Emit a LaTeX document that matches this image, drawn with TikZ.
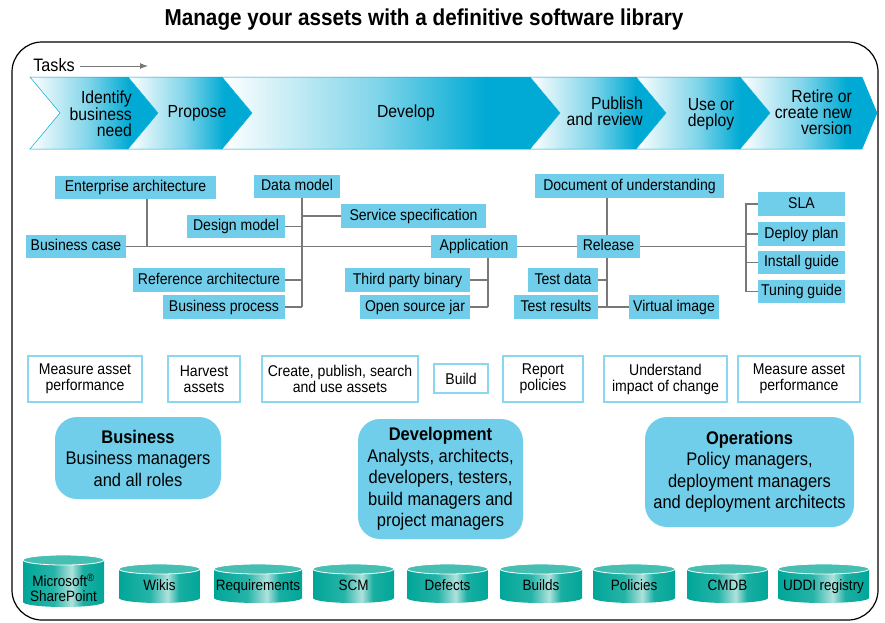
\documentclass[tikz,border=0pt]{standalone}
\usepackage{fontspec}
\setmainfont{Liberation Sans}[FakeStretch=0.9]
\usetikzlibrary{arrows.meta}

\definecolor{chevcyan}{RGB}{0,170,212}
\definecolor{lblblue}{RGB}{112,206,234}
\definecolor{boxedge}{RGB}{140,215,240}
\definecolor{linegray}{RGB}{120,120,120}
\definecolor{cylteal}{RGB}{0,166,152}
\definecolor{cylhi}{RGB}{175,226,220}
\definecolor{cyltop}{RGB}{70,190,178}

\pgfdeclarehorizontalshading{chevshade}{100bp}{color(0bp)=(white); color(25bp)=(white); color(48bp)=(chevcyan!50); color(64bp)=(chevcyan); color(100bp)=(chevcyan)}
\pgfdeclarehorizontalshading{cylshade}{100bp}{color(0bp)=(cylteal); color(25bp)=(cylteal); color(44bp)=(cylteal!85!white); color(55bp)=(cylhi); color(62bp)=(cylteal!90!white); color(75bp)=(cylteal); color(100bp)=(cylteal)}

\begin{document}
\begin{tikzpicture}
  [x=1pt,y=1pt,yscale=-1,
   link/.style={draw=linegray,line width=1.4pt},
   lbl/.style={fill=lblblue,minimum height=23.5pt,inner xsep=1pt,inner ysep=0pt,text height=11.5pt,text depth=3.5pt,font=\fontsize{15.6}{16}\selectfont},
   taskbox/.style={draw=boxedge,line width=1.2pt,fill=white,align=center,minimum height=46pt,inner xsep=1pt,inner ysep=0pt,font=\fontsize{15.6}{16}\selectfont},
   rolebox/.style={fill=lblblue,rounded corners=22pt,align=center,inner sep=0pt,font=\fontsize{18.3}{21.5}\selectfont},
   chevtext/.style={align=center,inner sep=0pt,font=\fontsize{17.5}{16}\selectfont},
   cyltext/.style={align=center,inner sep=0pt,font=\fontsize{15}{14.5}\selectfont}]

  \useasboundingbox (0,0) rectangle (885,622);

  \node[font=\fontsize{23}{26}\selectfont\bfseries] (title) at (424,20) {Manage your assets with a definitive software library};
  \draw[line width=1.2pt,rounded corners=30pt] (12,42) rectangle (878,620);

  \node[inner sep=1pt,font=\fontsize{18}{20}\selectfont] (tasks) at (54,65) {Tasks};
  \coordinate (tasksstart) at (80,66);
  \coordinate (tasksend) at (148,66);
  \draw[link,line width=1pt,-{Latex[length=8pt,width=6pt]}] (tasksstart) -- (tasksend);

  \foreach \xl/\xr/\tip in {30/128/30,128/222/30,222/530/30,530/636/30,636/740/30,740/862/15}
    \shade[shading=chevshade,draw=chevcyan,line width=.5pt] (\xl,77) -- (\xr,77) -- ++(\tip,36) -- (\xr,149) -- (\xl,149) -- ++(30,-36) -- cycle;

  \node[chevtext,align=right,anchor=east] (idn) at (132,114) {Identify\\business\\need};
  \node[chevtext] (prop) at (197,113) {Propose};
  \node[chevtext] (devt) at (406,113) {Develop};
  \node[chevtext,align=right,anchor=east] (pub) at (643,111) {Publish\\and review};
  \node[chevtext] (use) at (711,114) {Use or\\deploy};
  \node[chevtext,align=right,anchor=east] (ret) at (852,112) {Retire or\\create new\\version};

  \node[lbl,minimum width=161pt] (ea) at (135.5,187.5) {Enterprise architecture};
  \node[lbl,minimum width=86pt] (dm) at (297,186.5) {Data model};
  \node[lbl,minimum width=145pt] (ss) at (413.5,216) {Service specification};
  \node[lbl,minimum width=98pt] (dsm) at (236,226.5) {Design model};
  \node[lbl,minimum width=100pt] (bc) at (76,246.5) {Business case};
  \node[lbl,minimum width=86pt] (app) at (474,246.5) {Application};
  \node[lbl,minimum width=152pt] (ra) at (209,280) {Reference architecture};
  \node[lbl,minimum width=122pt] (bp) at (224,307) {Business process};
  \node[lbl,minimum width=125pt] (tpb) at (407.5,280) {Third party binary};
  \node[lbl,minimum width=110pt] (osj) at (415,307) {Open source jar};
  \node[lbl,minimum width=189pt] (dou) at (629.5,186) {Document of understanding};
  \node[lbl,minimum width=63pt] (rel) at (608.5,246.5) {Release};
  \node[lbl,minimum width=70pt] (td) at (563,280) {Test data};
  \node[lbl,minimum width=84pt] (tr) at (556,307) {Test results};
  \node[lbl,minimum width=90pt] (vi) at (674,307) {Virtual image};
  \node[lbl,minimum width=87pt] (sla) at (801.5,204) {SLA};
  \node[lbl,minimum width=87pt] (dp) at (801.5,234) {Deploy plan};
  \node[lbl,minimum width=87pt] (ig) at (801.5,262.5) {Install guide};
  \node[lbl,minimum width=87pt] (tg) at (801.5,291.5) {Tuning guide};

  \coordinate (eaj) at (147,246.5);
  \coordinate (dmj) at (302,307);
  \coordinate (appj) at (488,307);
  \coordinate (rsp) at (746,246.5);

  \foreach \from/\to in {bc/app,app/rel,tr/vi}
    \draw[link] (\from) -- (\to);
  \draw[link] (eaj |- ea.south) -- (eaj);
  \draw[link] (dmj |- dm.south) -- (dmj);
  \foreach \leaf in {ss,dsm,ra,bp}
    \draw[link] (\leaf) -- (\leaf -| dmj);
  \draw[link] (appj |- app.south) -- (appj);
  \foreach \leaf in {tpb,osj}
    \draw[link] (\leaf) -- (\leaf -| appj);
  \draw[link] (rel.north -| 607,0) -- (dou.south -| 607,0);
  \draw[link] (rel.south -| 607,0) -- (tr -| 607,0);
  \draw[link] (td) -- (td -| 607,0);
  \draw[link] (rel) -- (rsp);
  \draw[link] (sla.west) -- (sla.west -| rsp) -- (tg.west -| rsp) -- (tg.west);
  \foreach \leaf in {dp,ig}
    \draw[link] (\leaf) -- (\leaf -| rsp);

  \node[taskbox,minimum width=114pt] (map1) at (85,379) {Measure asset\\performance};
  \node[taskbox,minimum width=72pt] (ha) at (204,379) {Harvest\\assets};
  \node[taskbox,minimum width=156pt] (cpsu) at (340,379) {Create, publish, search\\and use assets};
  \node[taskbox,minimum width=54pt,minimum height=29pt] (build) at (461,378.5) {Build};
  \node[taskbox,minimum width=80pt] (rp) at (543,379) {Report\\policies};
  \node[taskbox,minimum width=123pt] (uic) at (665.5,379) {Understand\\impact of change};
  \node[taskbox,minimum width=122pt] (map2) at (799,379) {Measure asset\\performance};

  \node[rolebox,minimum width=166pt,minimum height=82pt] (biz) at (138,458) {\textbf{Business}\\Business managers\\and all roles};
  \node[rolebox,minimum width=165pt,minimum height=120pt] (devg) at (440.5,479) {\textbf{Development}\\Analysts, architects,\\developers, testers,\\build managers and\\project managers};
  \node[rolebox,minimum width=209pt,minimum height=110pt] (ops) at (749.5,472) {\textbf{Operations}\\Policy managers,\\deployment managers\\and deployment architects};

  \foreach \nm/\xa/\xb/\yt/\yb/\ty/\txt in {sp/23/104/560/602/588/{},wikis/119/200/569/598/586/Wikis,req/214/302/569/598/586/Requirements,scm/313/394/569/598/586/SCM,defects/407/488/569/598/586/Defects,builds/500/582/569/598/586/Builds,pol/593/675/569/598/586/Policies,cmdb/687/768/569/598/586/CMDB,uddi/778/869/569/598/586/UDDI registry}{
    \pgfmathsetmacro{\xm}{(\xa+\xb)/2}
    \pgfmathsetmacro{\rx}{(\xb-\xa)/2}
    \shade[shading=cylshade] (\xa,\yt) -- (\xa,\yb) arc[start angle=180,end angle=0,x radius=\rx,y radius=5] -- (\xb,\yt) -- cycle;
    \filldraw[fill=cyltop,draw=white,line width=.8pt] (\xm,\yt) ellipse[x radius=\rx,y radius=5];
    \node[cyltext,text height=11pt,text depth=3pt] (\nm) at (\xm,\ty) {\txt};
  }
  \node[cyltext] (sptext) at (63.5,588) {Microsoft\textsuperscript{\textregistered}\\SharePoint};

\end{tikzpicture}
\end{document}
